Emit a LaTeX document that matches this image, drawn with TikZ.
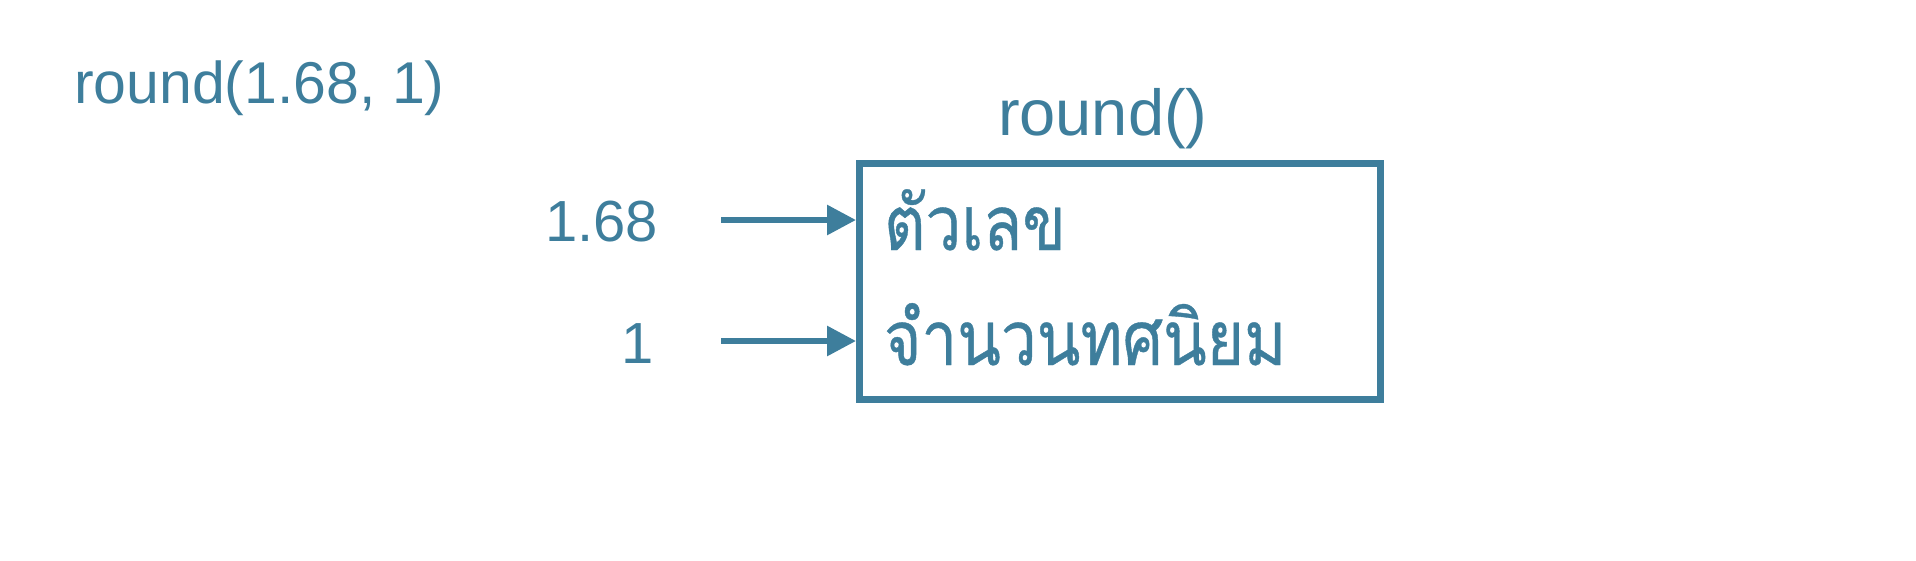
\documentclass[tikz,border=0pt]{standalone}
\usepackage{fontspec}
\setmainfont{Liberation Sans}
\newfontfamily\thaifont[Script=Thai,FakeStretch=0.84,FakeBold=0.5]{Loma}
\usetikzlibrary{arrows.meta}
\definecolor{mycol}{HTML}{3E7E9C}
\tikzset{
  lbl/.style={inner sep=0pt, outer sep=0pt, text=mycol},
  fbox/.style={draw=mycol, line width=7pt, inner sep=0pt},
  inarrow/.style={draw=mycol, line width=6pt, -{Triangle[length=29pt,width=29pt]}}
}
\begin{document}
\begin{tikzpicture}[x=1pt,y=-1pt]
\useasboundingbox (0,0) rectangle (1916,560);
\node[lbl, anchor=base west, font=\fontsize{59}{62}\selectfont] (call) at (74,103) {round(1.68, 1)};
\node[lbl, anchor=base west, font=\fontsize{65}{68}\selectfont] (fname) at (998,135) {round()};
\node[fbox, minimum width=520.5pt, minimum height=236pt] (box) at (1119.75,281) {};
\node[lbl, anchor=base west, font=\thaifont\fontsize{76}{80}\selectfont] (p1) at (884,250) {ตัวเลข};
\node[lbl, anchor=base west, font=\thaifont\fontsize{76}{80}\selectfont] (p2) at (884,365) {จำนวนทศนิยม};
\node[lbl, anchor=base east, font=\fontsize{58}{62}\selectfont] (v1) at (658,241) {1.68};
\node[lbl, anchor=base east, font=\fontsize{58}{62}\selectfont] (v2) at (654,363) {1};
\coordinate (s1) at (721,220);
\coordinate (s2) at (721,341);
\draw[inarrow] (s1) -- (box.west |- s1);
\draw[inarrow] (s2) -- (box.west |- s2);
\end{tikzpicture}
\end{document}
